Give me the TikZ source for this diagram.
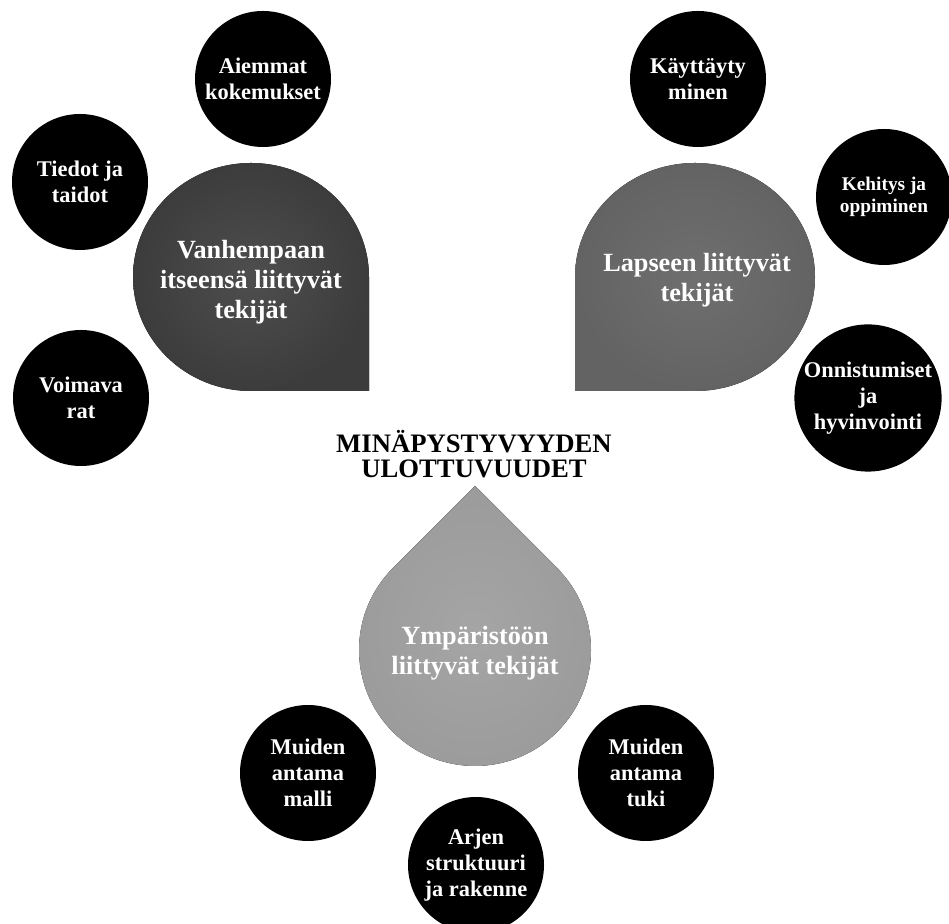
\documentclass[tikz,border=0pt]{standalone}
\usepackage{fontspec}
\setmainfont{Liberation Serif}
\definecolor{vanhin}{HTML}{4E4E4E}
\definecolor{vanhout}{HTML}{3C3C3C}
\definecolor{lapsin}{HTML}{6F6F6F}
\definecolor{lapsout}{HTML}{636363}
\definecolor{ympin}{HTML}{A5A5A5}
\definecolor{ympout}{HTML}{9B9B9B}
\begin{document}
\begin{tikzpicture}[x=0.75pt, y=0.75pt,
    drop/.style={text=white, align=center, font=\bfseries\fontsize{19.7}{22.5}\selectfont},
    leaf/.style={circle, fill=black, minimum size=102pt, inner sep=0pt, text=white, align=center,
        font=\bfseries\fontsize{16.8}{19.5}\selectfont}]
\useasboundingbox (0,0) rectangle (949,924);

\begin{scope}[]
    % teardrops
    \fill[shading=radial, inner color=vanhin, outer color=vanhout]
        (251,533) -- (369,533) -- (369,647) arc[start angle=0, end angle=270, x radius=118, y radius=114] -- cycle;
    \fill[shading=radial, inner color=lapsin, outer color=lapsout]
        (695,533) -- (575,533) -- (575,647) arc[start angle=180, end angle=-90, x radius=120, y radius=114] -- cycle;
    \fill[shading=radial, inner color=ympin, outer color=ympout]
        (475,438) -- ([shift={(475,274)}]135:116) arc[start angle=135, end angle=405, radius=116] -- cycle;
\end{scope}

\begin{scope}[]
    \node[drop] (vanh) at (251,642) {Vanhempaan\\itseensä liittyvät\\tekijät};
    \node[drop] (laps) at (697,644) {Lapseen liittyvät\\tekijät};
    \node[drop] (ymp)  at (475,271) {Ympäristöön\\liittyvät tekijät};
    \node[align=center, font=\bfseries\fontsize{20}{18.6}\selectfont] (otsikko) at (474,470) {MINÄPYSTYVYYDEN\\ULOTTUVUUDET};
\end{scope}

\begin{scope}[every node/.style={leaf}]
    \node (aiemmat)  at (263,845) {Aiemmat\\kokemukset};
    \node (tiedot)   at (80,742)  {Tiedot ja\\taidot};
    \node (voimavarat) at (81,526) {Voimava\\rat};
    \node (kaytt)    at (698,845) {Käyttäyty\\minen};
    \node[font=\bfseries\fontsize{14.5}{16.3}\selectfont] (kehitys) at (884,727) {Kehitys ja\\oppiminen};
    \node (onnist)   at (868,526) {Onnistumiset\\ja\\hyvinvointi};
    \node (malli)    at (308,151) {Muiden\\antama\\malli};
    \node (arjen)    at (476,59)  {Arjen\\struktuuri\\ja rakenne};
    \node (tuki)     at (646,151) {Muiden\\antama\\tuki};
\end{scope}
\end{tikzpicture}
\end{document}
